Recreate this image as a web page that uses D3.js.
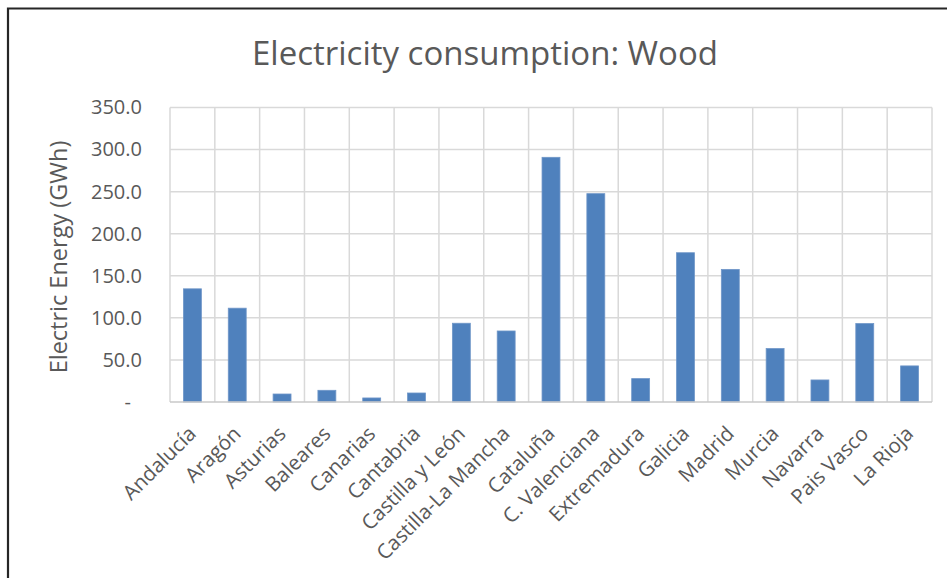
<!DOCTYPE html>
<html>
<head>
<meta charset="utf-8">
<script src="https://cdn.jsdelivr.net/npm/d3@7"></script>
<style>
  html, body { margin: 0; padding: 0; background: #fff; }
  svg { display: block; }
  text { font-family: "Open Sans", Lato, sans-serif; fill: #595959; }
</style>
</head>
<body>
<svg id="chart" width="947" height="578"></svg>
<script>
// Regional electricity consumption from wood (GWh)
const regions = [
  "Andalucía", "Aragón", "Asturias", "Baleares", "Canarias", "Cantabria",
  "Castilla y León", "Castilla-La Mancha", "Cataluña", "C. Valenciana",
  "Extremadura", "Galicia", "Madrid", "Murcia", "Navarra", "Pais Vasco", "La Rioja"
];
const consumption = [
  134.5, 111.5, 9.5, 13.9, 4.8, 10.7,
  93.6, 84.4, 290.8, 247.6,
  27.8, 177.4, 157.6, 63.5, 26.2, 93.2, 42.9
];
const yTicks = [0, 50, 100, 150, 200, 250, 300, 350];
const chartTitle = "Electricity consumption: Wood";
const yTitle = "Electric Energy (GWh)";

const svg = d3.select("#chart");
const W = 947, H = 578;
const plot = { left: 170, right: 932, top: 107.5, bottom: 402 };
const font = "'Open Sans', Lato, sans-serif";

// outer chart frame (only the top and left edges fall inside the view)
svg.append("rect").attr("x", 0).attr("y", 0).attr("width", W).attr("height", H).attr("fill", "#fff");
svg.append("path")
  .attr("d", `M8,${H + 2} V8.5 H${W + 2}`)
  .attr("fill", "none").attr("stroke", "#262626").attr("stroke-width", 2.2);

const x = d3.scaleBand().domain(regions).range([plot.left, plot.right]).paddingInner(0.6).paddingOuter(0.3);
const xEdges = d3.scaleLinear().domain([0, regions.length]).range([plot.left, plot.right]);
const y = d3.scaleLinear().domain([0, 350]).range([plot.bottom, plot.top]);

// horizontal gridlines
svg.append("g").selectAll("line").data(yTicks.filter(d => d > 0)).join("line")
  .attr("x1", plot.left).attr("x2", plot.right)
  .attr("y1", d => y(d)).attr("y2", d => y(d))
  .attr("stroke", "#d9d9d9").attr("stroke-width", 1.5);

// vertical gridlines between categories
svg.append("g").selectAll("line").data(d3.range(regions.length + 1)).join("line")
  .attr("x1", d => xEdges(d)).attr("x2", d => xEdges(d))
  .attr("y1", plot.top).attr("y2", plot.bottom)
  .attr("stroke", "#d9d9d9").attr("stroke-width", 1.5);

// bars
svg.append("g").selectAll("rect").data(consumption).join("rect")
  .attr("x", (d, i) => x(regions[i]))
  .attr("width", x.bandwidth())
  .attr("y", d => y(d))
  .attr("height", d => y(0) - y(d))
  .attr("fill", "#4f81bd")
  .attr("stroke", "#6f96c8").attr("stroke-width", 0.8);

// category axis line
svg.append("line")
  .attr("x1", plot.left).attr("x2", plot.right)
  .attr("y1", plot.bottom).attr("y2", plot.bottom)
  .attr("stroke", "#c8c8c8").attr("stroke-width", 1.6);

// value axis labels
const yAxis = d3.axisLeft(y).tickValues(yTicks).tickSize(0).tickPadding(0)
  .tickFormat(d => d === 0 ? "-" : d3.format(".1f")(d));
const yg = svg.append("g").attr("transform", `translate(${plot.left - 28},0)`).call(yAxis);
yg.select(".domain").remove();
yg.selectAll("text")
  .attr("font-size", 20).attr("fill", "#595959")
  .attr("font-family", font)
  .attr("dx", d => d === 0 ? -11 : 0);

// category axis labels, rotated
const xAxis = d3.axisBottom(x).tickSize(0).tickPadding(0);
const xg = svg.append("g").attr("transform", `translate(0,${plot.bottom})`).call(xAxis);
xg.select(".domain").remove();
xg.selectAll("text")
  .attr("font-size", 20.5).attr("fill", "#595959")
  .attr("font-family", font)
  .attr("text-anchor", "end")
  .attr("dy", null).attr("y", 0)
  .attr("transform", "translate(5,33) rotate(-45)");

// title
svg.append("text")
  .attr("x", 485).attr("y", 65)
  .attr("text-anchor", "middle")
  .attr("font-size", 33)
  .text(chartTitle);

// value axis title
svg.append("text")
  .attr("transform", `translate(67,257) rotate(-90)`)
  .attr("text-anchor", "middle")
  .attr("font-size", 23.5)
  .text(yTitle);
</script>
</body>
</html>
